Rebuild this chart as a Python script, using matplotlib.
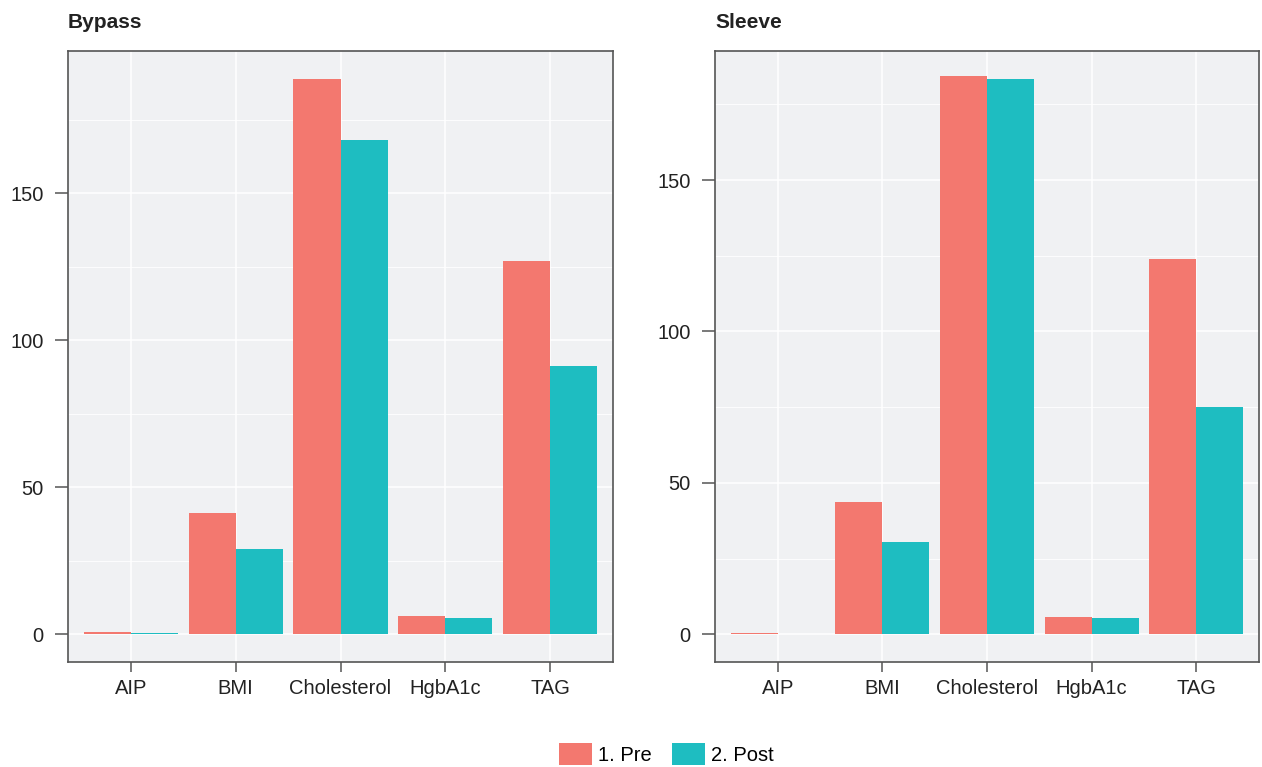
import matplotlib.pyplot as plt
import numpy as np

plt.rcParams['font.family'] = ['Liberation Sans', 'DejaVu Sans']

categories = ['AIP', 'BMI', 'Cholesterol', 'HgbA1c', 'TAG']
groups = ['1. Pre', '2. Post']

bypass_pre = [0.6, 41.2, 189.0, 6.1, 126.9]
bypass_post = [0.5, 28.9, 168.0, 5.4, 91.2]
sleeve_pre = [0.5, 43.7, 184.5, 5.6, 123.9]
sleeve_post = [0.05, 30.5, 183.5, 5.3, 75.0]

red = '#F3786F'
teal = '#1EBDC1'
panel_bg = '#F0F1F3'
edge = '#555555'

fig = plt.figure(figsize=(12.62, 7.67), dpi=100)
ax1 = fig.add_axes([68 / 1262, 105 / 767, 545 / 1262, 611 / 767])
ax2 = fig.add_axes([715 / 1262, 105 / 767, 544 / 1262, 611 / 767])

x = np.arange(1, len(categories) + 1)
w = 0.45


def draw(ax, pre, post, title, ylim):
    ax.set_facecolor(panel_bg)
    ax.bar(x - w / 2, pre, w, color=red, zorder=3, label=groups[0])
    ax.bar(x + w / 2, post, w, color=teal, zorder=3, label=groups[1])
    ax.set_ylim(*ylim)
    ax.set_xlim(0.4, len(categories) + 0.6)
    ax.set_xticks(x)
    ax.set_xticklabels(categories)
    ax.set_yticks([0, 50, 100, 150])
    ax.set_yticks([25, 75, 125, 175], minor=True)
    ax.grid(True, which='major', color='white', linewidth=1.1, zorder=0)
    ax.grid(True, which='minor', axis='y', color='white', linewidth=0.6, zorder=0)
    ax.tick_params(axis='both', which='major', labelsize=14.5, width=1.1,
                   color=edge, labelcolor='#222222')
    ax.tick_params(axis='y', which='major', length=9.4, pad=8)
    ax.tick_params(axis='x', which='major', length=7.2, pad=5)
    ax.tick_params(axis='y', which='minor', length=0)
    for s in ax.spines.values():
        s.set_color(edge)
        s.set_linewidth(1.2)
    ax.set_axisbelow(True)
    fig.text(ax.get_position().x0, 1 - 22 / 767, title, fontsize=15,
             fontweight='bold', color='#222222', ha='left', va='center')


draw(ax1, bypass_pre, bypass_post, 'Bypass', (-9.45, 198.4))
draw(ax2, sleeve_pre, sleeve_post, 'Sleeve', (-9.15, 192.6))

handles, labels = ax1.get_legend_handles_labels()
fig.legend(handles, labels, loc='center', bbox_to_anchor=(666 / 1262, 1 - 754 / 767),
           ncol=2, frameon=False, fontsize=14.5, handlelength=1.64, handleheight=1.35,
           handletextpad=0.3, columnspacing=1.0)

fig.savefig('out.png', dpi=100)
